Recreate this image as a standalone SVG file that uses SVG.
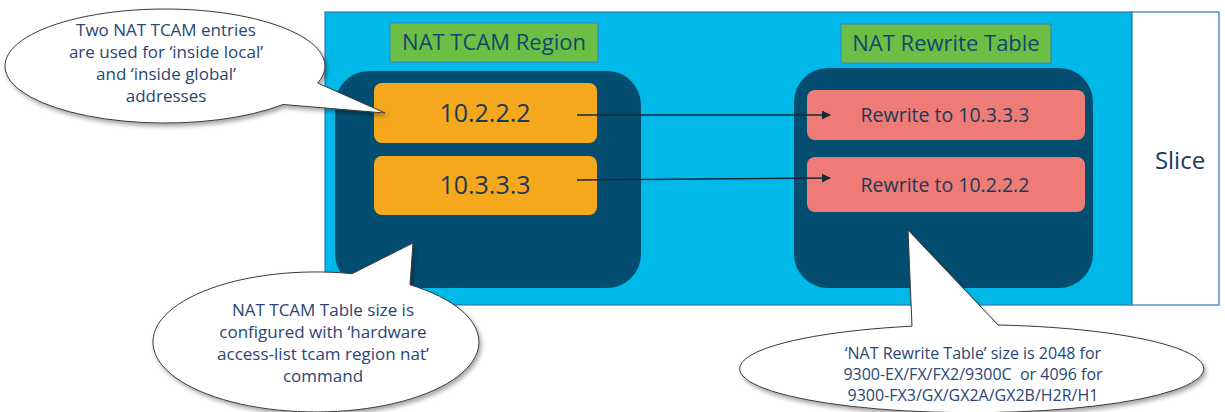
<svg xmlns="http://www.w3.org/2000/svg" width="1225" height="412" viewBox="0 0 1225 412">
  <style>
    .t { font-family: "Open Sans", "Noto Sans", "Liberation Sans", sans-serif; }
    .slice-frame { fill: #00B9E8; stroke: #2E75B6; stroke-width: 1.2; }
    .slice-end { fill: #FFFFFF; stroke: #2E75B6; stroke-width: 1.2; }
    .region { fill: #034E70; }
    .label { fill: #6DBE45; stroke: #2E86C1; stroke-width: 1; }
    .label-text { fill: #12486A; font-size: 22px; text-anchor: middle; }
    .tcam { fill: #F5A81C; }
    .rewrite { fill: #EF7B76; }
    .entry-text { fill: #183A5A; text-anchor: middle; }
    .callout { fill: #FFFFFF; stroke: #3A3A3A; stroke-width: 1; filter: url(#shadow); }
    .callout-text { fill: #2A4673; font-size: 17px; text-anchor: middle; }
    .callout-small { font-size: 16px; }
    .link { stroke: #14283C; stroke-width: 1.5; fill: none; marker-end: url(#arrow); }
  </style>
  <defs>
    <marker id="arrow" viewBox="0 0 10 10" refX="9" refY="5" markerWidth="6" markerHeight="6" orient="auto" markerUnits="strokeWidth">
      <path d="M0,0 L10,5 L0,10 Z" fill="#14283C"/>
    </marker>
    <filter id="shadow" x="-10%" y="-20%" width="125%" height="150%">
      <feDropShadow dx="2" dy="3" stdDeviation="2" flood-color="#000000" flood-opacity="0.35"/>
    </filter>
  </defs>

  <!-- slice outline -->
  <g id="slice">
    <rect class="slice-frame" x="325" y="12" width="807" height="293"/>
    <rect class="slice-end" x="1132" y="12" width="87" height="293"/>
    <text class="t" x="1180" y="169" font-size="24" fill="#1B3A5C" text-anchor="middle">Slice</text>
  </g>

  <!-- NAT TCAM region -->
  <g id="tcam-region">
    <rect class="label" x="390" y="23" width="208" height="39"/>
    <text class="t label-text" x="494" y="50">NAT TCAM Region</text>
    <rect class="region" x="335" y="71" width="306" height="217" rx="34" ry="34"/>
  </g>
  <g id="tcam-entry-1">
    <rect class="tcam" x="374" y="83" width="223" height="60" rx="8" ry="8"/>
    <text class="t entry-text" x="485" y="122" font-size="25">10.2.2.2</text>
  </g>
  <g id="tcam-entry-2">
    <rect class="tcam" x="374" y="156" width="223" height="59" rx="8" ry="8"/>
    <text class="t entry-text" x="485" y="194" font-size="25">10.3.3.3</text>
  </g>

  <!-- NAT rewrite table -->
  <g id="rewrite-table">
    <rect class="label" x="841" y="24" width="210" height="39"/>
    <text class="t label-text" x="946" y="51">NAT Rewrite Table</text>
    <rect class="region" x="794" y="68" width="299" height="220" rx="34" ry="34"/>
  </g>
  <g id="rewrite-entry-1">
    <rect class="rewrite" x="807" y="90" width="278" height="50" rx="8" ry="8"/>
    <text class="t entry-text" x="945" y="122" font-size="19.5">Rewrite to 10.3.3.3</text>
  </g>
  <g id="rewrite-entry-2">
    <rect class="rewrite" x="807" y="157" width="278" height="55" rx="8" ry="8"/>
    <text class="t entry-text" x="945" y="192" font-size="19.5">Rewrite to 10.2.2.2</text>
  </g>

  <!-- lookups from TCAM entries to rewrite entries -->
  <g id="connectors">
    <line class="link" x1="577" y1="115" x2="830" y2="115"/>
    <line class="link" x1="577" y1="180" x2="830" y2="178"/>
  </g>

  <!-- callouts -->
  <g id="callout-entries">
    <path class="callout" d="M317.7,83 L385,113 L283,104.5 A160,57 0 1 1 317.7,83 Z"/>
    <text class="t callout-text" x="166" y="36">Two NAT TCAM entries</text>
    <text class="t callout-text" x="166" y="58">are used for ‘inside local’</text>
    <text class="t callout-text" x="166" y="80">and ‘inside global’</text>
    <text class="t callout-text" x="166" y="102">addresses</text>
  </g>
  <g id="callout-tcam-size">
    <path class="callout" d="M352,273.7 L413,243 L410,284.8 A163,70 0 1 1 352,273.7 Z"/>
    <text class="t callout-text" x="323" y="316">NAT TCAM Table size is</text>
    <text class="t callout-text" x="323" y="338">configured with ‘hardware</text>
    <text class="t callout-text" x="323" y="360">access-list tcam region nat’</text>
    <text class="t callout-text" x="323" y="382">command</text>
  </g>
  <g id="callout-rewrite-size">
    <path class="callout" d="M912,326.2 L908,230 L998,325.0 A232,44 0 1 1 912,326.2 Z"/>
    <text class="t callout-text callout-small" x="973" y="359">‘NAT Rewrite Table’ size is 2048 for</text>
    <text class="t callout-text callout-small" x="973" y="380" xml:space="preserve">9300-EX/FX/FX2/9300C  or 4096 for</text>
    <text class="t callout-text callout-small" x="973" y="401">9300-FX3/GX/GX2A/GX2B/H2R/H1</text>
  </g>
</svg>
